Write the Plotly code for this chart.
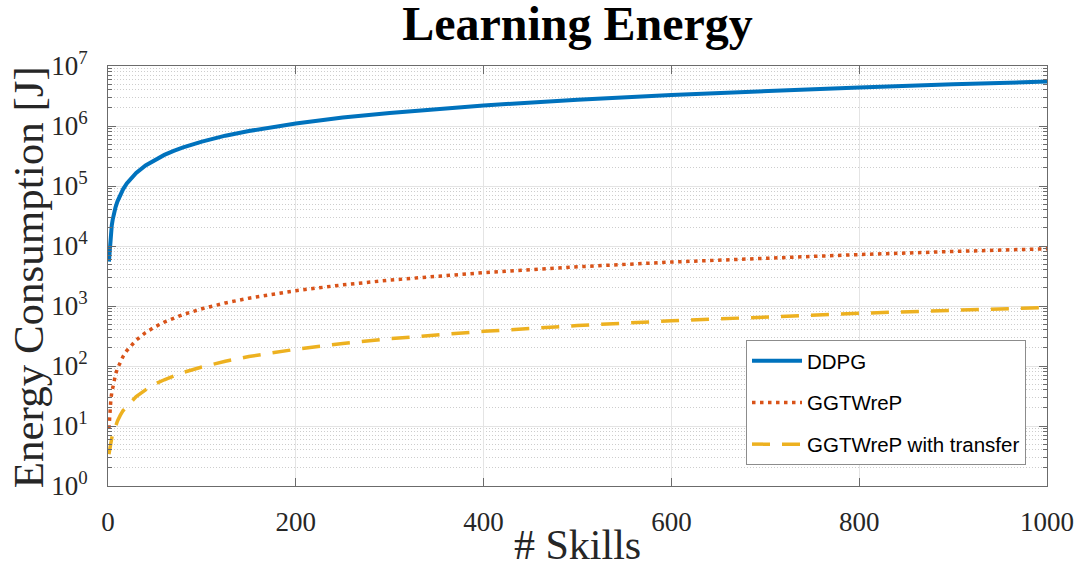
import plotly.graph_objects as go

# Number of learned skills (x) and cumulative learning energy in joules (y)
skills = [1, 2, 3, 4, 5, 6, 8, 10, 13, 16, 20, 25, 30, 40, 50, 60, 70, 80,
          100, 125, 150, 200, 250, 300, 400, 500, 600, 700, 800, 900, 1000]

energy_ddpg = [5.5e3, 1.1e4, 1.65e4, 2.2e4, 2.75e4, 3.3e4, 4.4e4, 5.5e4, 7.15e4,
               8.8e4, 1.1e5, 1.375e5, 1.65e5, 2.2e5, 2.75e5, 3.3e5, 3.85e5, 4.4e5,
               5.5e5, 6.9e5, 8.25e5, 1.1e6, 1.38e6, 1.65e6, 2.2e6, 2.75e6, 3.3e6,
               3.85e6, 4.4e6, 4.95e6, 5.5e6]

energy_ggtwrep = [9, 18, 27, 36, 45, 54, 72, 90, 117, 144, 180, 225, 270, 360,
                  450, 540, 630, 720, 900, 1125, 1350, 1800, 2250, 2700, 3600,
                  4500, 5400, 6300, 7200, 8100, 9000]

energy_transfer = [3.4, 4.4, 5.3, 6.3, 7.2, 8.1, 10, 12, 15, 18, 21, 26, 31, 40,
                   50, 59, 68, 78, 96, 120, 144, 190, 238, 285, 378, 472, 566,
                   660, 755, 848, 942]

series_names = ["DDPG", "GGTWreP", "GGTWreP with transfer"]

x_ticks = [0, 200, 400, 600, 800, 1000]
y_ticks = [1, 10, 100, 1e3, 1e4, 1e5, 1e6, 1e7]
y_ticktext = ["10<sup>%d</sup>" % k for k in range(8)]
y_minor = [m * 10 ** e for e in range(7) for m in range(2, 10)]

AXIS = "#6b6b6b"
TEXT = "#262626"
SERIF = "Liberation Serif"

fig = go.Figure()
fig.add_trace(go.Scatter(
    x=skills, y=energy_ddpg, mode="lines", name=series_names[0], legendgroup="a",
    line=dict(color="#0072BD", width=4)))
fig.add_trace(go.Scatter(
    x=skills, y=energy_ggtwrep, mode="lines", name=series_names[1], legendgroup="b",
    line=dict(color="#D95319", width=3.5, dash="3.5px,4.5px")))
fig.add_trace(go.Scatter(
    x=skills, y=energy_transfer, mode="lines", name=series_names[2], legendgroup="c",
    line=dict(color="#EDB120", width=3.5, dash="18px,12px")))

fig.update_layout(
    width=1075, height=565,
    margin=dict(l=108, r=28, t=66, b=79, autoexpand=False),
    paper_bgcolor="white", plot_bgcolor="white",
    title=dict(text="<b>Learning Energy</b>", x=0.5, xref="paper", xanchor="center",
               y=1 - 23 / 565, yref="container", yanchor="middle",
               font=dict(family=SERIF, size=48, color="black")),
    legend=dict(x=(746 - 108) / 939, y=(486 - 340) / 420, xanchor="left", yanchor="top",
                bgcolor="white", bordercolor="#8c8c8c", borderwidth=1,
                font=dict(family="Liberation Sans", size=20.5, color="black"),
                itemwidth=50, tracegroupgap=12),
    xaxis=dict(range=[0, 1000], tickvals=x_ticks, ticks="inside", ticklen=8,
               tickcolor=AXIS, showline=True, linecolor=AXIS, linewidth=1,
               mirror="ticks", showgrid=True, gridcolor="#e4e4e4", zeroline=False,
               automargin=False,
               tickfont=dict(family=SERIF, size=27, color=TEXT),
               ticklabelstandoff=12),
    yaxis=dict(type="log", range=[0, 7], tickvals=y_ticks, ticktext=y_ticktext,
               ticks="inside", ticklen=8, tickcolor=AXIS, showline=True,
               linecolor=AXIS, linewidth=1, mirror="ticks", showgrid=True,
               gridcolor="#e4e4e4", zeroline=False, automargin=False,
               tickfont=dict(family=SERIF, size=27, color=TEXT),
               ticklabelstandoff=14,
               minor=dict(tickvals=y_minor, ticks="inside", ticklen=4,
                          tickcolor=AXIS, showgrid=True, gridcolor="#cdcdcd",
                          griddash="1px,2px", gridwidth=1)),
    annotations=[
        dict(text="Energy Consumption [J]", textangle=-90, showarrow=False,
             xref="paper", yref="paper", x=(28 - 108) / 939, y=0.497,
             xanchor="center", yanchor="middle",
             font=dict(family=SERIF, size=43, color=TEXT)),
        dict(text="# Skills", showarrow=False, xref="paper", yref="paper",
             x=0.5, y=(486 - 545) / 420, xanchor="center", yanchor="middle",
             font=dict(family=SERIF, size=42, color=TEXT)),
    ],
)

fig.write_html("out.html")
